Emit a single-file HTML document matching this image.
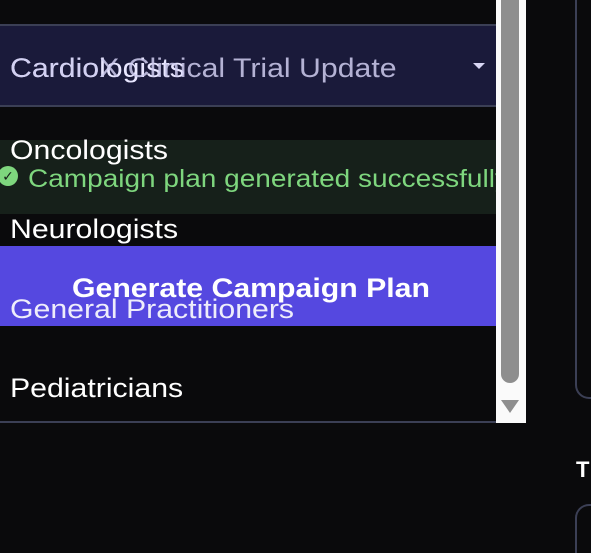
<!DOCTYPE html>
<html style="overflow:hidden;width:591px;height:553px"><head><meta charset="utf-8"><style>
body{margin:0;width:591px;height:553px;background:#0a0a0c;overflow:hidden;position:relative;font-family:"Liberation Sans","DejaVu Sans",sans-serif}
div,span{position:absolute;box-sizing:border-box}
.w{transform:scaleX(1.12);transform-origin:0 0}
.item{color:#fff;font-size:27px;left:10px;white-space:nowrap}
</style></head><body>
<div style="left:0;top:24px;width:496px;height:83px;background:#1a1a3a;border-top:2px solid #3b3f55;border-bottom:2px solid #3b3f55"></div>
<span class="w" style="left:10px;top:53px;font-size:27px;color:#e8e6ff;white-space:nowrap">Cardiologists</span>
<span class="w" style="left:10px;top:53px;font-size:27px;color:#cfcdf0;opacity:.85;white-space:nowrap">CardioX Clinical Trial Update</span>
<span style="left:473px;top:63px;width:0;height:0;border-left:6px solid transparent;border-right:6px solid transparent;border-top:6px solid #d8d6f4"></span>
<div style="left:0;top:140px;width:496px;height:74px;background:#16201a;overflow:hidden">
<span class="w" style="left:28px;top:25px;font-size:25px;color:#7ed67e;white-space:nowrap">Campaign plan generated successfully</span>
</div>
<span style="left:-2px;top:166px;width:20px;height:20px;border-radius:50%;background:#7ed67e;color:#16201a;font-size:14px;line-height:20px;text-align:center;font-weight:bold">✓</span>
<div style="left:0;top:246px;width:496px;height:80px;background:#5548e0"></div>
<span class="w" style="left:72px;top:273px;color:#fff;font-weight:bold;font-size:27px;white-space:nowrap">Generate Campaign Plan</span>
<span class="item w" style="top:135px">Oncologists</span>
<span class="item w" style="top:214px">Neurologists</span>
<span class="item w" style="top:294px;opacity:.9">General Practitioners</span>
<span class="item w" style="top:373px">Pediatricians</span>
<div style="left:-10px;top:-10px;width:526px;height:433px;border:2px solid #3b3f55;border-radius:8px"></div>
<div style="left:496px;top:0;width:30px;height:423px;background:#fafafa"></div>
<div style="left:501px;top:-10px;width:18px;height:393px;background:#8e8e8e;border-radius:9px"></div>
<span style="left:501px;top:400px;width:0;height:0;border-left:9px solid transparent;border-right:9px solid transparent;border-top:13px solid #8e8e8e"></span>
<div style="left:575px;top:-20px;width:16px;height:419px;border:2px solid #3b3f55;border-right:none;border-radius:14px 0 0 14px"></div>
<span style="left:576px;top:457px;font-size:22px;color:#fff;font-weight:bold">T</span>
<div style="left:575px;top:504px;width:16px;height:49px;border:2px solid #3b3f55;border-right:none;border-bottom:none;border-radius:14px 0 0 0"></div>
</body></html>
